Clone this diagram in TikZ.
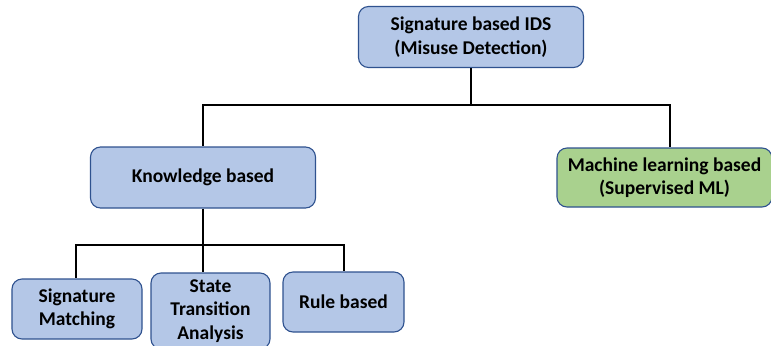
\documentclass[tikz,border=0pt]{standalone}
\usepackage{fontspec}
\setmainfont{Carlito}
\definecolor{boxblue}{RGB}{180,199,231}
\definecolor{boxgreen}{RGB}{169,209,142}
\definecolor{edgeblue}{RGB}{47,82,143}
\begin{document}
\begin{tikzpicture}[x=1bp,y=-1bp,
  box/.style={draw=edgeblue, line width=1.1bp, rounded corners=10bp, fill=boxblue,
    align=center, inner sep=0pt, font=\fontsize{19.5bp}{23.5bp}\selectfont\bfseries},
  link/.style={line width=2.2bp, black, line join=miter}]
\useasboundingbox (0,0) rectangle (771,345);
\node[box, minimum width=225bp, minimum height=61bp] (top) at (471,37) {Signature based IDS\\(Misuse Detection)};
\node[box, minimum width=225bp, minimum height=61bp] (kb) at (203,177.5) {Knowledge based};
\node[box, fill=boxgreen, minimum width=215bp, minimum height=59bp] (ml) at (664.5,177.5) {Machine learning based\\(Supervised ML)};
\node[box, minimum width=130bp, minimum height=60bp] (sm) at (77,309) {Signature\\Matching};
\node[box, minimum width=119bp, minimum height=76bp] (st) at (210.5,311) {State\\Transition\\Analysis};
\node[box, minimum width=121bp, minimum height=60bp] (rb) at (343.5,302) {Rule based};
\coordinate (j1) at (471,105);
\coordinate (j2) at (203,245);
\draw[link] (top.south) -- (j1);
\draw[link] (j1) -| (kb.north);
\draw[link] (j1) -| (ml.north -| 670,0);
\draw[link] (kb.south) -- (kb.south |- st.north);
\draw[link] (j2) -| (sm.north -| 76,0);
\draw[link] (j2) -| (rb.north -| 344,0);
\end{tikzpicture}
\end{document}
